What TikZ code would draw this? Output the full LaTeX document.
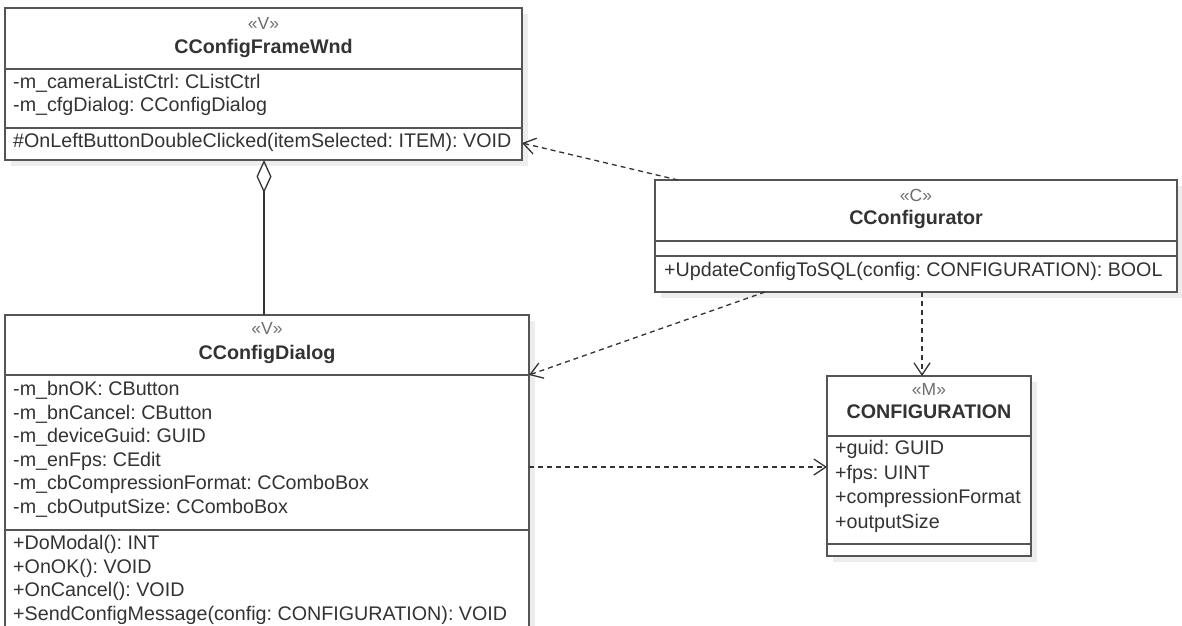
\documentclass[tikz,border=0pt]{standalone}
\usepackage{fontspec}
\setmainfont{Liberation Sans}
\usetikzlibrary{arrows.meta,shadows,calc}
\definecolor{txt}{HTML}{333333}
\definecolor{edge}{HTML}{555555}
\definecolor{stc}{HTML}{6E6E6E}
\definecolor{shd}{HTML}{EDEDED}
\frenchspacing
\begin{document}
\begin{tikzpicture}[x=1pt,y=-1pt,
 box/.style={draw=edge, line width=1.5pt, fill=white, inner sep=0pt, outer sep=0pt, anchor=north west,
   drop shadow={shadow xshift=6pt, shadow yshift=-6pt, fill=shd, opacity=1}},
 st/.style={text=stc, font=\fontsize{17.5}{19}\selectfont, inner sep=0pt, anchor=mid},
 nm/.style={text=txt, font=\fontsize{19.7}{22}\selectfont\bfseries, inner sep=0pt, anchor=mid},
 ln/.style={text=txt, font=\fontsize{19.7}{22}\selectfont, inner sep=0pt, anchor=mid west},
 sep/.style={draw=edge, line width=1.5pt},
 dep/.style={draw=txt, line width=1.3pt, dash pattern=on 5pt off 4pt, -{Straight Barb[length=12pt,width=16pt]}},
 agg/.style={draw=txt, line width=1.3pt, {Diamond[open,length=33pt,width=15pt]}-}
]
\useasboundingbox (0,0) rectangle (1182,625);
\clip (0,0) rectangle (1182,625);
\fill[white] (0,0) rectangle (1182,625);

% CConfigFrameWnd
\node[box, minimum width=517pt, minimum height=152pt] (A) at (5,8) {};
\draw[sep] (5,69) -- (522,69);
\draw[sep] (5,128) -- (522,128);
\node[st] (Ast) at (263.5,27) {«V»};
\node[nm] (Anm) at (263.5,51) {CConfigFrameWnd};
\node[ln] (Aa1) at (13,86) {-m\_cameraListCtrl: CListCtrl};
\node[ln] (Aa2) at (13,109) {-m\_cfgDialog: CConfigDialog};
\node[ln] (Ao1) at (13,145) {\#OnLeftButtonDoubleClicked(itemSelected: ITEM): VOID};

% CConfigDialog
\node[box, minimum width=524pt, minimum height=330pt] (B) at (5,315) {};
\draw[sep] (5,375) -- (529,375);
\draw[sep] (5,530) -- (529,530);
\node[st] (Bst) at (267,332) {«V»};
\node[nm] (Bnm) at (267,356.5) {CConfigDialog};
\node[ln] (Ba1) at (13,393) {-m\_bnOK: CButton};
\node[ln] (Ba2) at (13,416.5) {-m\_bnCancel: CButton};
\node[ln] (Ba3) at (13,440) {-m\_deviceGuid: GUID};
\node[ln] (Ba4) at (13,463.5) {-m\_enFps: CEdit};
\node[ln] (Ba5) at (13,487) {-m\_cbCompressionFormat: CComboBox};
\node[ln] (Ba6) at (13,510.5) {-m\_cbOutputSize: CComboBox};
\node[ln] (Bo1) at (13,547) {+DoModal(): INT};
\node[ln] (Bo2) at (13,570.5) {+OnOK(): VOID};
\node[ln] (Bo3) at (13,594) {+OnCancel(): VOID};
\node[ln] (Bo4) at (13,617.5) {+SendConfigMessage(config: CONFIGURATION): VOID};

% CConfigurator
\node[box, minimum width=522pt, minimum height=112pt] (C) at (655,180) {};
\draw[sep] (655,241) -- (1177,241);
\draw[sep] (655,256) -- (1177,256);
\node[st] (Cst) at (916,199) {«C»};
\node[nm] (Cnm) at (916,222) {CConfigurator};
\node[ln] (Co1) at (664,274) {+UpdateConfigToSQL(config: CONFIGURATION): BOOL};

% CONFIGURATION
\node[box, minimum width=204pt, minimum height=180pt] (D) at (827,376) {};
\draw[sep] (827,436) -- (1031,436);
\draw[sep] (827,544) -- (1031,544);
\node[st] (Dst) at (929,393) {«M»};
\node[nm] (Dnm) at (929,416) {CONFIGURATION};
\node[ln] (Da1) at (835,452) {+guid: GUID};
\node[ln] (Da2) at (835,476.5) {+fps: UINT};
\node[ln] (Da3) at (835,501) {+compressionFormat};
\node[ln] (Da4) at (835,525.5) {+outputSize};

% connectors
\coordinate (c1) at ([xshift=23pt]C.north west);
\coordinate (a1) at ([yshift=17pt]A.south east);
\draw[dep] (c1) -- (a1);
\coordinate (c2) at ([xshift=110pt]C.south west);
\coordinate (b2) at ([yshift=-60pt]B.north east);
\draw[dep] (c2) -- (b2);
\coordinate (c3) at ([xshift=267pt]C.south west);
\draw[dep] (c3) -- (c3 |- D.north);
\coordinate (b4) at ([yshift=-152pt]B.north east);
\draw[dep] (b4) -- (b4 -| D.west);
\draw[agg] (A.south -| 264,0) -- (B.north -| 264,0);
\end{tikzpicture}
\end{document}
